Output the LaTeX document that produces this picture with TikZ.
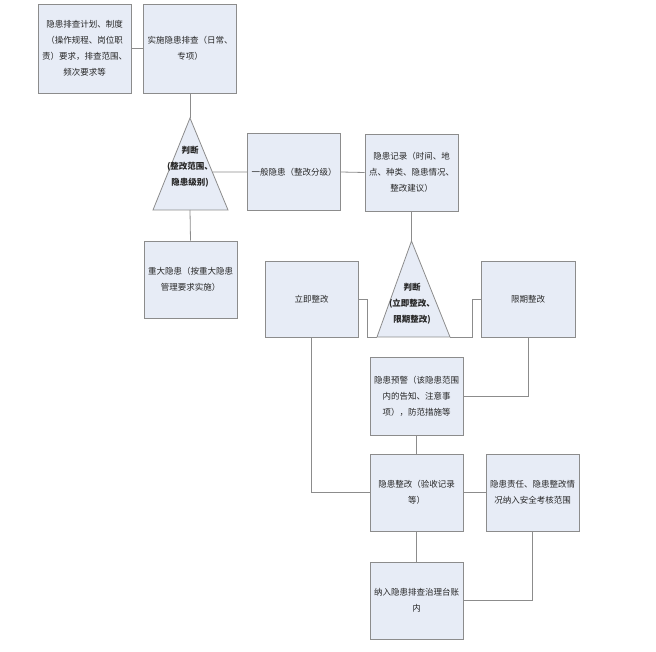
\documentclass[tikz,border=0pt]{standalone}
\usepackage{fontspec}
\newfontfamily\cjk{Noto Sans CJK SC}
\usetikzlibrary{calc}
\definecolor{boxfill}{HTML}{E7ECF6}
\definecolor{boxline}{HTML}{8C8C8C}
\definecolor{txt}{HTML}{262626}
\begin{document}
\begin{tikzpicture}[x=1pt,y=-1pt,
	box/.style={draw=boxline,fill=boxfill,line width=0.8pt,minimum width=93pt,minimum height=77pt,
		align=center,text=txt,font=\cjk\fontsize{8.5}{16}\selectfont,inner sep=0pt},
	judge/.style={align=center,text=txt,font=\cjk\bfseries\fontsize{8.5}{16}\selectfont,inner sep=0pt},
	link/.style={draw=boxline,line width=0.8pt}]
	\useasboundingbox (0,0) rectangle (656,652);
	% top row
	\node[box,minimum height=89pt] (plan) at (84.5,48.5) {隐患排查计划、制度\\（操作规程、岗位职\\责）要求，排查范围、\\频次要求等};
	\node[box,minimum height=89pt] (check) at (190,48.5) {实施隐患排查（日常、\\专项）};
	% first judgement
	\coordinate (t1top) at (190,118);
	\coordinate (t1l) at (153,210);
	\coordinate (t1r) at (228,210);
	\coordinate (t1b) at (190,210);
	\filldraw[link,fill=boxfill] (t1top) -- (t1r) -- (t1l) -- cycle;
	\node[judge] (judge1) at (190,167) {判断\\(整改范围、\\隐患级别)};
	\node[box] (common) at (294,172) {一般隐患（整改分级）};
	\node[box] (record) at (411.5,172.5) {隐患记录（时间、地\\点、种类、隐患情况、\\整改建议）};
	\node[box] (major) at (190.5,279.5) {重大隐患（按重大隐患\\管理要求实施）};
	% second judgement
	\coordinate (t2top) at (411.5,241);
	\coordinate (t2l) at (377,337);
	\coordinate (t2r) at (450,337);
	\filldraw[link,fill=boxfill] (t2top) -- (t2r) -- (t2l) -- cycle;
	\node[judge] (judge2) at (412,304) {判断\\(立即整改、\\限期整改)};
	\node[box,minimum height=76pt] (now) at (311.5,299) {立即整改};
	\node[box,minimum width=94pt,minimum height=76pt] (later) at (528,299) {限期整改};
	% lower column
	\node[box,minimum height=78pt] (warn) at (416.5,396) {隐患预警（该隐患范围\\内的告知、注意事\\项），防范措施等};
	\node[box] (fix) at (416.5,492.5) {隐患整改（验收记录\\等）};
	\node[box] (duty) at (532.5,492.5) {隐患责任、隐患整改情\\况纳入安全考核范围};
	\node[box] (ledger) at (416.5,600.5) {纳入隐患排查治理台账\\内};
	% connectors
	\draw[link] (plan.east) -- (check.west);
	\draw[link] (check.south) -- (t1top);
	\draw[link] (t1b) -- (major.north);
	\draw[link] ($(t1top)!0.587!(t1r)$) -- (common.west);
	\draw[link] (common.east) -- (record.west);
	\draw[link] (record.south) -- (t2top);
	\draw[link] (now.east) -| ($(t2l)+(-10,0)$) -- (t2l);
	\draw[link] (later.west) -| ($(t2r)+(22,0)$) -- (t2r);
	\draw[link] (now.south) |- (fix.west);
	\draw[link] (later.south) |- (warn.east);
	\draw[link] (warn.south) -- (fix.north);
	\draw[link] (fix.east) -- (duty.west);
	\draw[link] (fix.south) -- (ledger.north);
	\draw[link] (duty.south) |- (ledger.east);
\end{tikzpicture}
\end{document}
